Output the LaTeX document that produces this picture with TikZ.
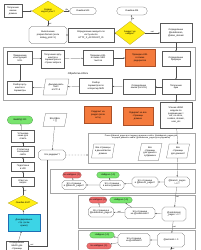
\documentclass[tikz,border=0pt]{standalone}
\usepackage{fontspec}
\setmainfont{Liberation Sans}
\usetikzlibrary{shapes.geometric,shapes.misc,arrows.meta}

\definecolor{yelfill}{RGB}{255,238,20}
\definecolor{yelline}{RGB}{170,150,20}
\definecolor{hotfill}{RGB}{244,122,60}
\definecolor{hotline}{RGB}{170,80,40}
\definecolor{okfill}{RGB}{120,228,110}
\definecolor{nofill}{RGB}{238,108,108}
\definecolor{cyfill}{RGB}{60,212,230}
\definecolor{cyline}{RGB}{30,110,180}

\tikzset{
  sz/.style n args={2}{minimum width=#1*2pt, minimum height=#2*2pt},
  base/.style={draw=black!65, line width=0.4pt, align=center, inner sep=0.5pt,
    font=\fontsize{4.6}{5.4}\selectfont},
  box/.style={base, rectangle, fill=white},
  decide/.style={base, diamond, aspect=1.6, fill=yelfill, draw=yelline},
  term/.style={base, rounded rectangle, fill=white},
  oct/.style={base, chamfered rectangle, chamfered rectangle xsep=2.5pt,
    chamfered rectangle ysep=2.5pt, fill=white},
  data/.style={base, trapezium, trapezium left angle=75, trapezium right angle=105,
    trapezium stretches=true, fill=white},
  hot/.style={box, fill=hotfill, draw=hotline},
  cyan box/.style={box, fill=cyfill, draw=cyline},
  okpill/.style={base, rounded rectangle, fill=okfill, draw=okfill!60!black},
  nopill/.style={base, rounded rectangle, fill=nofill, draw=nofill!60!black},
  grp/.style={draw=black!35, line width=0.4pt},
  flow/.style={-{Stealth[length=3pt,width=2.4pt]}, draw=black!70, line width=0.4pt},
  lbl/.style={font=\fontsize{4}{4.5}\selectfont, inner sep=0.6pt},
}

\begin{document}
\begin{tikzpicture}[x=2pt,y=-2pt]
    \useasboundingbox (0,0) rectangle (200,250);

    % Domain and account
    \node[box, sz={18}{13}] (getdom) at (13,11) {Получение\\имени\\домена};
    \node[decide, sz={32}{20}] (srvok) at (48,11) {Сервер\\недоступен?};
    \node[term, sz={27}{7}] (err503) at (83,11) {Ошибка 503};
    \node[oct, sz={38}{17}] (prep) at (48,35) {Выполнение\\prepareDomain (если\\debug\_print=1)};
    \node[box, sz={46}{14}] (acc) at (91,35) {Определение аккаунта по\\хосту или по\\HTTP\_X\_ACCOUNT\_ID};
    \node[decide, sz={30}{23}] (noacc) at (130,33) {Аккаунт не\\найден?};
    \node[term, sz={31}{8}] (err404) at (132,11) {Ошибка 404};
    \node[box, sz={32}{19}] (sub) at (176,33) {Определение\\@subdomain,\\@alias\_domain};

    % URL processing
    \draw[grp] (3,47) rectangle (195,100);
    \node[lbl, font=\fontsize{5}{6}\selectfont] (urltitle) at (78,74) {Обработка URL'а};
    \node[box, sz={25}{13}] (constr) at (20,58) {Применение\\конструкций\\URL};
    \node[box, sz={23}{18}] (args) at (53,59) {Получение аргу-\\ментов и\\параметров из\\строки запроса};
    \node[box, sz={30}{15}] (seo) at (98,58) {Проверка URL\\в списке SEO\\текстов};
    \node[hot, sz={30}{17}] (redir) at (140,58) {Проверка URL\\в списке\\редиректов};
    \node[box, sz={28}{15}] (brows) at (176,59) {Определение\\браузера};
    \node[box, sz={25}{13}] (parse) at (20,88) {Разбор аргу-\\ментов в\\параметры};
    \node[data, sz={26}{16}] (utf) at (56,87) {Декодировать\\текст\\в UTF-8};
    \node[box, sz={33}{15}] (mze) at (96,86) {Разбор\\параметров по\\алгоритму MZE};
    \node[box, sz={32}{15}] (lang) at (139,87) {Определение\\языка (по URL)};
    \node[box, sz={28}{15}] (cook) at (176,87) {Получение\\куки};

    % Output and redirects
    \node[okpill, sz={26}{8}] (out200) at (20,120) {ВЫВОД 200};
    \node[data, sz={24}{13}] (glob) at (55,120) {\$GLOBAL\\= [ ]};
    \node[hot, sz={27}{17}] (rdr1) at (98,115) {Редирект на\\раздел (если\\есть)};
    \node[hot, sz={30}{18}] (rdr2) at (138,116) {Редирект на все\\страницы\\домена};
    \node[box, sz={32}{26}] (head) at (176,115) {Чтение HEAD\\модели по\\разрешению =\\ext, no-store,\\cookies, domain,\\user\_etc};

    % Left column
    \node[box, sz={23}{12}] (cache) at (23,136) {Установка\\кеша для\\ответа};
    \node[box, sz={23}{11}] (stat) at (23,152) {Статистика\\посещений\\сайта};
    \node[box, sz={23}{9}] (prepuri) at (23,167) {Подготовка\\в URI};
    \node[box, sz={23}{9}] (answ) at (23,182) {Ответ на\\запрос};
    \node[decide, sz={30}{15}] (e404) at (23,203) {Ошибка 404?};
    \node[cyan box, sz={32}{17}] (decode) at (24,223) {Декодирование\\стр. (если\\нужно)};
    \node[box, sz={22}{10}] (pghead) at (17,246) {Определение\\HEAD для\\страницы};
    \node[oct, sz={27}{10}] (isrdr) at (52,155) {Это редирект?};

    % Page search
    \draw[grp] (88,133) rectangle (195,163);
    \node[lbl, align=center] (srchtitle) at (141,137) {Поиск @branch\_pages для текущего домена и сайта, @subdomain\_pages для\\текущего домена и сайта (@subdomain\_pages для субдомена)};
    \node[data, sz={23}{14}] (allbr) at (103,151) {Все страницы\\в данной ветке\\домена};
    \node[data, sz={24}{17}] (allsub) at (150,152) {Все\\страницы\\для данного\\субдомена};
    \node[data, sz={23}{14}] (alldom) at (178,151) {Все\\страницы\\для домена?};
    \coordinate (srchin) at (88,155);

    % Branch pages
    \draw[grp] (50,169) rectangle (195,193);
    \node[nopill, sz={19}{6}] (r1) at (72,175) {Не найдено (-1)};
    \node[okpill, sz={23}{6}] (n1) at (108,175) {Найдено (>0)};
    \node[oct, sz={24}{9}] (q1a) at (74,185) {Это страница\\в @branch\_pages?};
    \node[oct, sz={24}{9}] (q1b) at (112,185) {Это страница\\в ветке домена?};
    \node[oct, sz={26}{10}] (q1c) at (145,182) {Это страница\\в @branch\_pages?};
    \node[oct, sz={25}{10}] (q1d) at (177,182) {@branch\_pages\\> 0 ?};

    % Subdomain pages
    \draw[grp] (78,195) rectangle (195,228);
    \node[nopill, sz={18}{6}] (r2) at (98,200) {Не найдено (-1)};
    \node[okpill, sz={23}{6}] (n2) at (121,200) {Найдено (>0)};
    \node[oct, sz={23}{10}] (q2a) at (101,212) {Это страница в\\@subdomain\_pages?};
    \node[oct, sz={30}{11}] (q2b) at (140,213) {Эта страница\\на @subdomain?};
    \node[oct, sz={24}{14}] (q2c) at (174,214) {@subdomain\\\_pages > 0 ?};

    % Ext pages
    \draw[grp] (78,230) -- (195,230) (78,230) -- (78,250) (195,230) -- (195,250);
    \node[okpill, sz={25}{6}] (n3) at (102,235) {Найдено (>0)};
    \node[nopill, sz={25}{6}] (r3) at (99,246) {Не найдено (-1)};
    \node[oct, sz={32}{13}] (q3a) at (134,240) {Эта страница\\на @ext/fields?};
    \node[oct, sz={27}{14}] (q3b) at (171,240) {@extcards > 0};
    \coordinate (bottomout) at (171,250);

    % Connectors, top
    \draw[flow] (getdom) -- (srvok);
    \draw[flow] (srvok) -- node[lbl, above] {Да} (err503);
    \draw[flow] (srvok) -- node[lbl, right] {нет} (prep);
    \draw[flow] (prep) -- (acc);
    \draw[flow] (acc) -- (noacc);
    \draw[flow] (noacc) -- node[lbl, right] {Да} (err404);
    \draw[flow] (noacc) -- node[lbl, above] {нет} (sub);
    \draw[flow] (sub) -- (brows);

    % Connectors, URL
    \draw[flow] (constr) -- (parse);
    \draw[flow] (constr) -- (args);
    \draw[flow] (args) -- (seo);
    \draw[flow] (seo) -- (redir);
    \draw[flow] (brows) -- (cook);
    \draw[flow] (cook) -- (lang);
    \draw[flow] (lang) -- (mze);
    \draw[flow] (mze) -- (utf);
    \draw[flow] (utf) -- (parse);
    \draw[flow] (cook) -- (head);

    % Connectors, output
    \draw[flow] (glob) -- (isrdr);
    \draw[flow, dashed] (isrdr) -- (srchin);
    \draw[flow] ([xshift=-9pt]isrdr.south) |- node[lbl, above, pos=0.9] {нет} (pghead);
    \draw[flow] (pghead) -- (decode);
    \draw[flow] (decode) -- (e404);
    \draw[flow] (e404) -- node[lbl, right] {нет} (answ);
    \draw[flow] (answ) -- (prepuri);
    \draw[flow] (prepuri) -- (stat);
    \draw[flow] (stat) -- (cache);
    \draw[flow] (cache) -- (out200);

    % Connectors, search
    \draw[flow] (head) -- (alldom);
    \draw[flow] (alldom) -- (q1d);
    \draw[flow] (q1d) -- (q1c);
    \draw[flow] (q1c) -- (q1b);
    \draw[flow] (q1b) -- (q1a);
    \draw[flow] (q1a) -- (r1);
    \draw[flow] (q1b) -- (n1);
    \draw[flow] (q1d) -- node[lbl, right] {нет} (q2c);
    \draw[flow] (q2c) -- (q2b);
    \draw[flow] (q2b) -- node[lbl, above] {нет} (q2a);
    \draw[flow] (q2a) -- (r2);
    \draw[flow] (q2b) -- (n2);
    \draw[flow] (q2c) -- node[lbl, right] {нет} (q3b);
    \draw[flow] (q3b) -- (q3a);
    \draw[flow] (q3a) -- (n3);
    \draw[flow] (q3a) -- (r3);
    \draw[flow] (q3b) -- node[lbl, right] {нет} (bottomout);
\end{tikzpicture}
\end{document}
